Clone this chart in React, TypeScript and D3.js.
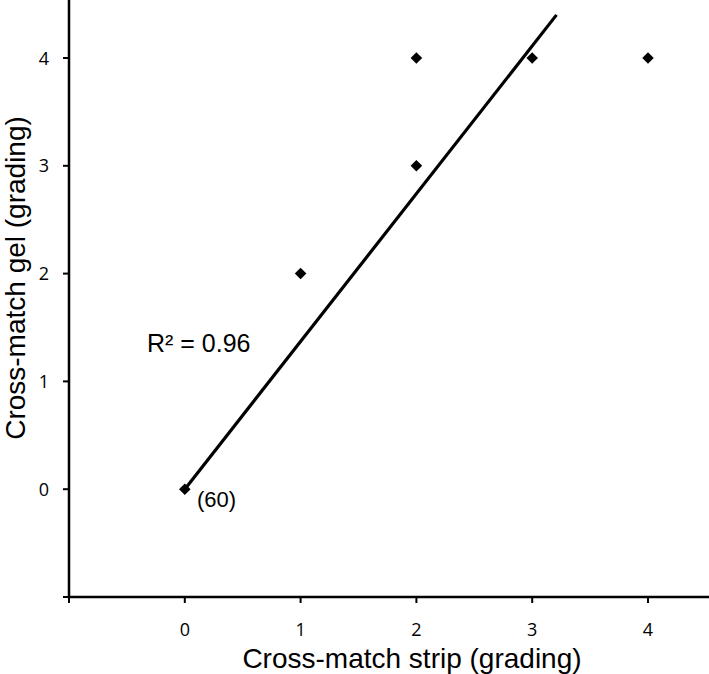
import React from "react";
import * as d3 from "d3";

const stripGrades = [0, 1, 2, 2, 3, 4];
const gelGrades = [0, 2, 3, 4, 4, 4];
const xTicks = [-1, 0, 1, 2, 3, 4];
const yTicks = [-1, 0, 1, 2, 3, 4];
const xTickLabels = ["", "0", "1", "2", "3", "4"];
const yTickLabels = ["", "0", "1", "2", "3", "4"];
const trendX = [0, 3.21];
const trendY = [0, 4.4];
const r2Label = "R² = 0.96";
const countLabel = "(60)";

export default function App() {
  const W = 709, H = 674;
  const x = d3.scaleLinear().domain([-1, 4]).range([69, 648]);
  const y = d3.scaleLinear().domain([-1, 4]).range([597, 58]);
  const diamond = d3.symbol().type(d3.symbolDiamond2).size(85)();
  const line = d3.line<number>().x((d) => x(trendX[d])).y((d) => y(trendY[d]));
  const tickFont = "'Open Sans', sans-serif";
  const titleFont = "'Liberation Sans', Arial, sans-serif";
  return (
    <svg width={W} height={H} style={{ position: "absolute", left: 0, top: 0, background: "#fff" }}>
      <rect width={W} height={H} fill="#fff" />
      {/* axes */}
      <line x1={x(-1)} x2={x(-1)} y1={0} y2={y(-1)} stroke="#000" strokeWidth={2.5} />
      <line x1={x(-1) - 1.25} x2={W} y1={y(-1)} y2={y(-1)} stroke="#000" strokeWidth={2.5} />
      {xTicks.map((t, i) => (
        <g key={"xt" + i}>
          <line x1={x(t)} x2={x(t)} y1={y(-1)} y2={y(-1) + 6} stroke="#000" strokeWidth={2} />
          <text x={x(t)} y={636} textAnchor="middle" fontFamily={tickFont} fontSize={18} fill="#000">
            {xTickLabels[i]}
          </text>
        </g>
      ))}
      {yTicks.map((t, i) => (
        <g key={"yt" + i}>
          <line x1={x(-1) - 6} x2={x(-1)} y1={y(t)} y2={y(t)} stroke="#000" strokeWidth={2} />
          <text x={49} y={y(t) + 6.5} textAnchor="end" fontFamily={tickFont} fontSize={18} fill="#000">
            {yTickLabels[i]}
          </text>
        </g>
      ))}
      {/* trend line */}
      <path d={line([0, 1]) || ""} stroke="#000" strokeWidth={3.2} fill="none" />
      {/* points */}
      {stripGrades.map((s, i) => (
        <path key={"p" + i} d={diamond || ""} transform={`translate(${x(s)},${y(gelGrades[i])})`} fill="#000" />
      ))}
      <text x={147} y={352} fontFamily={titleFont} fontSize={25} fill="#000">{r2Label}</text>
      <text x={197} y={507} fontFamily={titleFont} fontSize={22} fill="#000">{countLabel}</text>
      {/* titles */}
      <text x={412} y={668} textAnchor="middle" fontFamily={titleFont} fontSize={28} fill="#000">
        Cross-match strip (grading)
      </text>
      <text transform={`translate(25,278) rotate(-90)`} textAnchor="middle" fontFamily={titleFont} fontSize={28} fill="#000">
        Cross-match gel (grading)
      </text>
    </svg>
  );
}
